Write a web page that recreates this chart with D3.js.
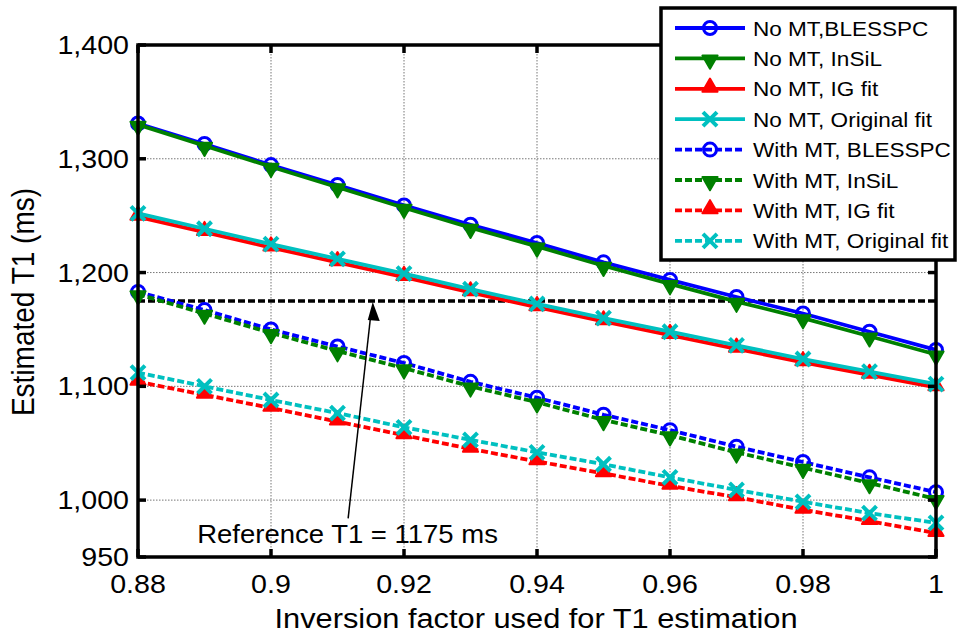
<!DOCTYPE html>
<html lang="en">
<head>
<meta charset="UTF-8">
<script src="https://d3js.org/d3.v7.min.js"></script>
<title>Estimated T1</title>
<style>
    body { margin: 0; background: white; }
    text { font-family: "Liberation Sans", Arial, sans-serif; fill: black; }
</style>
</head>
<body>
<div id="svg"></div>
<script>
    /*------------------- data --------------------*/
    const inversion = [0.88, 0.89, 0.90, 0.91, 0.92, 0.93, 0.94, 0.95, 0.96, 0.97, 0.98, 0.99, 1.00];

    const noMT_BLESSPC = [1331, 1313, 1294.5, 1277, 1259, 1242, 1226, 1209, 1193.5, 1178.5, 1164, 1148, 1132];
    const noMT_InSiL = [1330, 1311.5, 1293, 1275, 1257, 1239.5, 1223, 1206, 1190, 1174.5, 1160, 1144, 1128];
    const noMT_IG = [1249, 1235.5, 1222, 1209, 1196, 1182.5, 1169.5, 1157, 1145, 1133, 1121, 1110, 1099];
    const noMT_Orig = [1252, 1238.5, 1225, 1212, 1199, 1185.5, 1172.5, 1160, 1148, 1136, 1124, 1113, 1102];
    const withMT_BLESSPC = [1183, 1167, 1150, 1135, 1120.5, 1104, 1090, 1075, 1061.5, 1047, 1033.5, 1020, 1007];
    const withMT_InSiL = [1181, 1164, 1147, 1131, 1116, 1100, 1086, 1070.5, 1057, 1042, 1028.5, 1015, 1001];
    const withMT_IG = [1104, 1092.5, 1081, 1069, 1057, 1045, 1034, 1023.5, 1012.5, 1002.5, 991.5, 981.5, 971];
    const withMT_Orig = [1112, 1100, 1088, 1076.5, 1064, 1053, 1042, 1031.5, 1020, 1009, 998.5, 988.5, 980];

    const seriesNames = ["No MT,BLESSPC", "No MT, InSiL", "No MT, IG fit", "No MT, Original fit",
                         "With MT, BLESSPC", "With MT, InSiL", "With MT, IG fit", "With MT, Original fit"];

    const xTicks = [0.88, 0.90, 0.92, 0.94, 0.96, 0.98, 1.00];
    const xTickLabels = ["0.88", "0.9", "0.92", "0.94", "0.96", "0.98", "1"];
    const yTicks = [950, 1000, 1100, 1200, 1300, 1400];
    const yTickLabels = ["950", "1,000", "1,100", "1,200", "1,300", "1,400"];

    const referenceT1 = 1175;
    const refText = "Reference T1 = 1175 ms";

    /*------------------- layout --------------------*/
    const W = 958, H = 634;
    const plot = { left: 138, right: 936, top: 45, bottom: 557 };
    const SX = 1.1;   // the picture's text is a little wide

    const x = d3.scaleLinear().domain([0.88, 1]).range([plot.left, plot.right]);
    const y = d3.scaleLinear().domain([950, 1400]).range([plot.bottom, plot.top]);

    const svg = d3.select("#svg").append("svg")
        .attr("width", W)
        .attr("height", H);

    function txt(g, px, py, s, size, anchor) {
        return g.append("text")
            .attr("transform", `translate(${px},${py}) scale(${SX},1)`)
            .attr("text-anchor", anchor || "start")
            .style("font-size", size + "px")
            .text(s);
    }

    /*------------------- grid --------------------*/
    const grid = svg.append("g")
        .attr("stroke", "#777")
        .attr("stroke-width", 1)
        .attr("stroke-dasharray", "1.5,1.5");
    grid.selectAll(".gx")
        .data(xTicks.slice(1, -1))
        .enter().append("line")
        .attr("x1", d => x(d)).attr("x2", d => x(d))
        .attr("y1", plot.top).attr("y2", plot.bottom);
    grid.selectAll(".gy")
        .data(yTicks.slice(1, -1))
        .enter().append("line")
        .attr("y1", d => y(d)).attr("y2", d => y(d))
        .attr("x1", plot.left).attr("x2", plot.right);

    /*------------------- reference line --------------------*/
    svg.append("line")
        .attr("x1", plot.left).attr("x2", plot.right)
        .attr("y1", y(referenceT1)).attr("y2", y(referenceT1))
        .attr("stroke", "black")
        .attr("stroke-width", 3.5)
        .attr("stroke-dasharray", "7,3");

    /*------------------- series --------------------*/
    const colors = ["#0000ff", "#008000", "#ff0000", "#00c0c0"];
    const markers = ["circle", "down", "up", "cross"];
    const allSeries = [noMT_BLESSPC, noMT_InSiL, noMT_IG, noMT_Orig,
                       withMT_BLESSPC, withMT_InSiL, withMT_IG, withMT_Orig];

    const line = d3.line()
        .x((d, i) => x(inversion[i]))
        .y(d => y(d));

    function drawMarker(g, kind, color, px, py) {
        if (kind == "circle") {
            g.append("circle")
                .attr("cx", px).attr("cy", py).attr("r", 6.5)
                .attr("fill", "none").attr("stroke", color).attr("stroke-width", 3);
        } else if (kind == "cross") {
            g.append("path")
                .attr("d", `M${px - 7},${py - 7}L${px + 7},${py + 7}M${px - 7},${py + 7}L${px + 7},${py - 7}`)
                .attr("stroke", color).attr("stroke-width", 4).attr("fill", "none");
        } else {
            const rot = kind == "down" ? 180 : 0;
            g.append("path")
                .attr("d", d3.symbol().type(d3.symbolTriangle).size(100)())
                .attr("transform", `translate(${px},${py + (kind == "down" ? 1.5 : -1.5)}) rotate(${rot})`)
                .attr("fill", color).attr("stroke", color).attr("stroke-width", 2)
                .attr("stroke-linejoin", "round");
        }
    }

    allSeries.forEach((vals, s) => {
        const c = colors[s % 4];
        const g = svg.append("g");
        g.append("path")
            .datum(vals)
            .attr("d", line)
            .attr("fill", "none")
            .attr("stroke", c)
            .attr("stroke-width", 3.8)
            .attr("stroke-dasharray", s >= 4 ? "7,3" : null);
        vals.forEach((v, i) => drawMarker(g, markers[s % 4], c, x(inversion[i]), y(v)));
    });

    /*------------------- frame and ticks --------------------*/
    svg.append("rect")
        .attr("x", plot.left).attr("y", plot.top)
        .attr("width", plot.right - plot.left)
        .attr("height", plot.bottom - plot.top)
        .attr("fill", "none").attr("stroke", "black").attr("stroke-width", 3.5);

    const ticks = svg.append("g").attr("stroke", "black").attr("stroke-width", 3.5);
    xTicks.forEach(t => {
        ticks.append("line").attr("x1", x(t)).attr("x2", x(t)).attr("y1", plot.bottom).attr("y2", plot.bottom - 8);
        ticks.append("line").attr("x1", x(t)).attr("x2", x(t)).attr("y1", plot.top).attr("y2", plot.top + 8);
    });
    yTicks.forEach(t => {
        ticks.append("line").attr("y1", y(t)).attr("y2", y(t)).attr("x1", plot.left).attr("x2", plot.left + 8);
        ticks.append("line").attr("y1", y(t)).attr("y2", y(t)).attr("x1", plot.right).attr("x2", plot.right - 8);
    });

    xTicks.forEach((t, i) => txt(svg, x(t), 593, xTickLabels[i], 26, "middle"));
    yTicks.forEach((t, i) => txt(svg, 129, y(t) + 9, yTickLabels[i], 26, "end"));

    /*------------------- axis labels --------------------*/
    txt(svg, 536, 628, "Inversion factor used for T1 estimation", 28, "middle");
    svg.append("text")
        .attr("transform", `translate(34,302) rotate(-90) scale(1,${SX})`)
        .attr("text-anchor", "middle")
        .style("font-size", "28px")
        .text("Estimated T1 (ms)");

    /*------------------- annotation --------------------*/
    svg.append("line")
        .attr("x1", x(0.9116)).attr("y1", y(984))
        .attr("x2", x(0.9150)).attr("y2", y(referenceT1) + 14)
        .attr("stroke", "black").attr("stroke-width", 1.5);
    const hx = x(0.9153), hy = y(referenceT1) + 1;
    svg.append("path")
        .attr("d", `M${hx},${hy}L${hx + 7},${hy + 19}L${hx - 5},${hy + 18}Z`)
        .attr("fill", "black");
    txt(svg, x(0.8889), y(962.3), refText, 25, "start");

    /*------------------- legend --------------------*/
    const legend = svg.append("g");
    legend.append("rect")
        .attr("x", 661).attr("y", 8)
        .attr("width", 294).attr("height", 252)
        .attr("fill", "white").attr("stroke", "black").attr("stroke-width", 3.5);

    seriesNames.forEach((name, s) => {
        const ry = 28 + s * 30.4;
        const c = colors[s % 4];
        legend.append("line")
            .attr("x1", 675).attr("x2", 745)
            .attr("y1", ry).attr("y2", ry)
            .attr("stroke", c).attr("stroke-width", 3.8)
            .attr("stroke-dasharray", s >= 4 ? "7,3" : null);
        drawMarker(legend, markers[s % 4], c, 710, ry);
        txt(legend, 753, ry + 7.5, name, 20.5, "start");
    });
</script>
</body>
</html>
